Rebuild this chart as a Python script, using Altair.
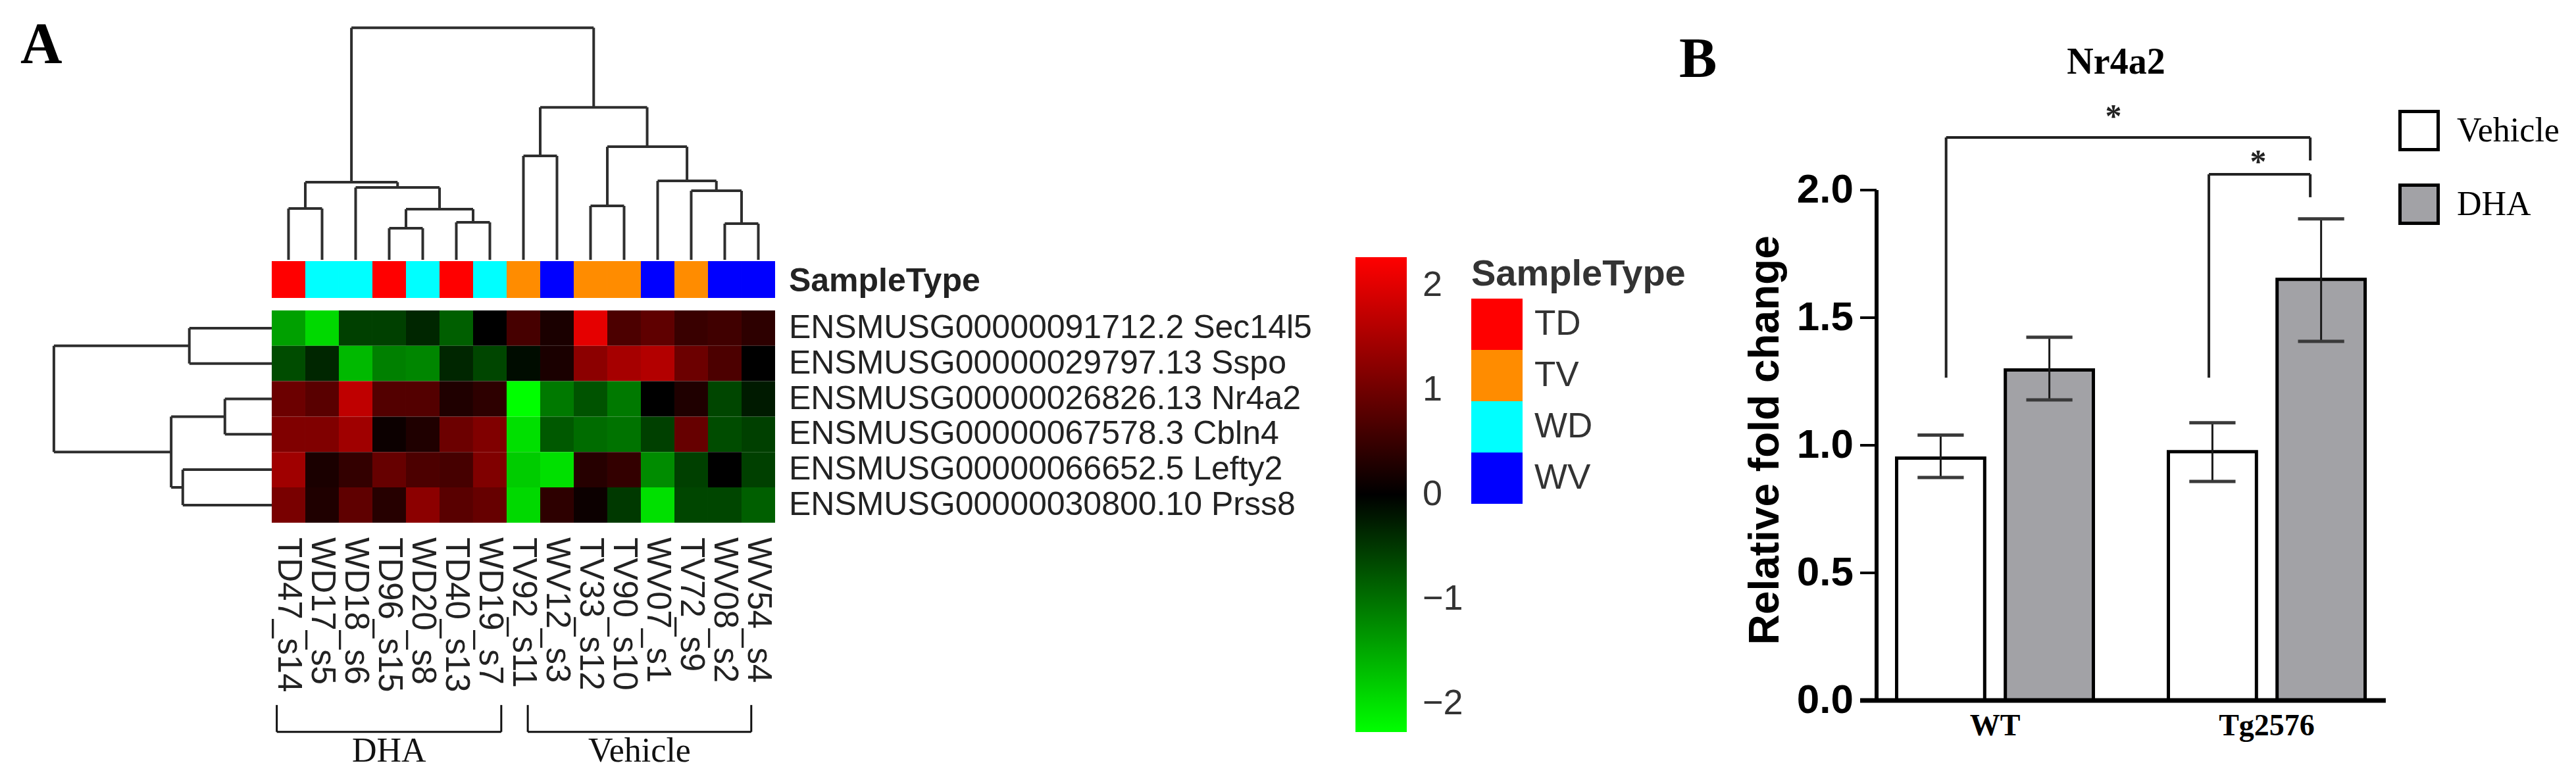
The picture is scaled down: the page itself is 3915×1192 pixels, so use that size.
import altair as alt
import pandas as pd

# ---------------- Panel A data ----------------
samples = ["TD47_s14", "WD17_s5", "WD18_s6", "TD96_s15", "WD20_s8", "TD40_s13", "WD19_s7",
           "TV92_s11", "WV12_s3", "TV33_s12", "TV90_s10", "WV07_s1", "TV72_s9", "WV08_s2", "WV54_s4"]
sample_types = ["TD", "WD", "WD", "TD", "WD", "TD", "WD", "TV", "WV", "TV", "TV", "WV", "TV", "WV", "WV"]
genes = ["ENSMUSG00000091712.2 Sec14l5", "ENSMUSG00000029797.13 Sspo", "ENSMUSG00000026826.13 Nr4a2",
         "ENSMUSG00000067578.3 Cbln4", "ENSMUSG00000066652.5 Lefty2", "ENSMUSG00000030800.10 Prss8"]
z_sec14l5 = [-1.42, -1.93, -0.57, -0.57, -0.34, -0.85, 0.00, 0.62, 0.23, 2.04, 0.68, 0.85, 0.51, 0.57, 0.40]
z_sspo = [-0.68, -0.34, -1.65, -1.14, -1.19, -0.34, -0.62, -0.11, 0.23, 1.25, 1.48, 1.59, 0.96, 0.68, 0.00]
z_nr4a2 = [0.96, 0.79, 1.70, 0.74, 0.74, 0.28, 0.40, -2.27, -1.08, -0.74, -1.08, 0.00, 0.28, -0.62, -0.23]
z_cbln4 = [1.14, 1.14, 1.42, 0.11, 0.28, 0.96, 1.14, -1.99, -0.79, -0.96, -1.02, -0.57, 0.91, -0.68, -0.57]
z_lefty2 = [1.42, 0.23, 0.45, 0.91, 0.68, 0.62, 1.14, -1.82, -1.99, 0.34, 0.45, -1.25, -0.57, 0.00, -0.57]
z_prss8 = [1.08, 0.28, 0.85, 0.34, 1.25, 0.79, 0.91, -1.93, 0.40, 0.11, -0.51, -1.99, -0.62, -0.62, -0.85]
z_rows = [z_sec14l5, z_sspo, z_nr4a2, z_cbln4, z_lefty2, z_prss8]

type_names = ["TD", "TV", "WD", "WV"]
type_colors = ["#ff0000", "#ff8c00", "#00ffff", "#0000ff"]
colorbar_ticks = [-2, -1, 0, 1, 2]

# dendrograms: (left node, right node, height); leaves are 0..n-1, merges numbered n, n+1, ...
col_merges = [(0, 1, 1.56), (3, 4, 0.96), (5, 6, 1.14), (16, 17, 1.54), (2, 18, 2.20),
              (15, 19, 2.36), (7, 8, 3.16), (9, 10, 1.64), (13, 14, 1.10), (12, 23, 2.10),
              (11, 24, 2.40), (22, 25, 3.44), (21, 26, 4.64), (20, 27, 7.06)]
row_merges = [(0, 1, 2.27), (2, 3, 1.29), (4, 5, 2.45), (7, 8, 2.77), (6, 9, 6.00)]

groups_A = ["DHA", "Vehicle"]
groups_A_start = [0.15, 7.63]
groups_A_end = [6.84, 14.29]

# ---------------- Panel B data ----------------
genotypes = ["WT", "Tg2576"]
treatments = ["Vehicle", "DHA"]
bar_means = [[0.95, 1.295], [0.975, 1.65]]
bar_low = [[0.874, 1.178], [0.858, 1.407]]
bar_high = [[1.04, 1.423], [1.088, 1.887]]
y_ticks = [0.0, 0.5, 1.0, 1.5, 2.0]
# significance brackets: left x, right x, top y, left foot, right foot
sig_left = [-0.18, 0.787]
sig_right = [1.16, 1.16]
sig_top = [2.206, 2.062]
sig_left_foot = [1.265, 1.265]
sig_right_foot = [2.116, 1.972]

# ---------------- layout ----------------
W, H = 3899, 1176
SANS = "Liberation Sans, Arial, Helvetica, sans-serif"
SERIF = "Liberation Serif, Times New Roman, serif"
NARROW = "Liberation Sans Narrow, Arial Narrow, Liberation Sans, Arial, sans-serif"
TXT = "#222222"

XA_DOM = [-7.941, 68.51]
YA_DOM = [-8.625, 13.234]
XB_DOM = [-7.322, 2.1186]
YB_DOM = [-0.3067, 2.7242]


def xa(f="x"):
    return alt.X(f"{f}:Q", scale=alt.Scale(domain=XA_DOM, nice=False, zero=False), axis=None)


def ya(f="y"):
    return alt.Y(f"{f}:Q", scale=alt.Scale(domain=YA_DOM, nice=False, zero=False, reverse=True), axis=None)


def xb(f="x"):
    return alt.X(f"{f}:Q", scale=alt.Scale(domain=XB_DOM, nice=False, zero=False), axis=None)


def yb(f="y"):
    return alt.Y(f"{f}:Q", scale=alt.Scale(domain=YB_DOM, nice=False, zero=False), axis=None)


def dendro(merges, n):
    pos = {i: i + 0.5 for i in range(n)}
    hgt = {i: 0.0 for i in range(n)}
    segs = []
    for k, (a, b, h) in enumerate(merges):
        segs.append((pos[a], hgt[a], pos[a], h))
        segs.append((pos[b], hgt[b], pos[b], h))
        segs.append((pos[a], h, pos[b], h))
        pos[n + k] = (pos[a] + pos[b]) / 2
        hgt[n + k] = h
    return segs


# ---------------- Panel A ----------------
heat_df = pd.DataFrame([
    {"x": i, "x2": i + 1, "y": r, "y2": r + 1, "v": z_rows[r][i], "gene": genes[r], "sample": samples[i]}
    for r in range(len(genes)) for i in range(len(samples))
])
heat = alt.Chart(heat_df).mark_rect(strokeWidth=0).encode(
    x=xa(), x2="x2:Q", y=ya(), y2="y2:Q",
    color=alt.Color("v:Q", title=None,
                    scale=alt.Scale(domain=[-2.27, 0, 2.27], range=["#00ff00", "#000000", "#ff0000"],
                                    interpolate="rgb"),
                    legend=alt.Legend(orient="none", legendX=2052, legendY=383, direction="vertical",
                                      gradientLength=722, gradientThickness=78, gradientStrokeWidth=0,
                                      values=colorbar_ticks, format="d", labelFont=SANS, labelFontSize=54,
                                      labelColor="#333333", labelOffset=24, padding=0, tickCount=5)),
)

SB_TOP, SB_BOT = -1.394, -0.353
sbar_df = pd.DataFrame({"x": list(range(15)), "x2": [i + 1 for i in range(15)],
                        "y": [SB_TOP] * 15, "y2": [SB_BOT] * 15, "SampleType": sample_types})
sbar = alt.Chart(sbar_df).mark_rect(strokeWidth=0).encode(
    x=xa(), x2="x2:Q", y=ya(), y2="y2:Q",
    fill=alt.Fill("SampleType:N", title="SampleType",
                  scale=alt.Scale(domain=type_names, range=type_colors),
                  legend=alt.Legend(orient="none", legendX=2228, legendY=382, symbolType="square",
                                    symbolSize=6084, symbolStrokeWidth=0, rowPadding=0, padding=0,
                                    titleFont=SANS, titleFontSize=56, titleFontWeight="bold",
                                    titleColor="#333333", titlePadding=8, titleLimit=2000,
                                    labelFont=SANS, labelLimit=1000,
                                    labelFontSize=53, labelColor="#333333", labelOffset=18)),
)

COL_BASE, COL_K = -1.431, 0.929
col_df = pd.DataFrame([{"x": a, "y": COL_BASE - h1 * COL_K, "x2": b, "y2": COL_BASE - h2 * COL_K}
                       for a, h1, b, h2 in dendro(col_merges, 15)])
ROW_K = 1.082
row_df = pd.DataFrame([{"y": a, "x": -h1 * ROW_K, "y2": b, "x2": -h2 * ROW_K}
                       for a, h1, b, h2 in dendro(row_merges, 6)])
col_tree = alt.Chart(col_df).mark_rule(strokeWidth=4, color="#2e2e2e").encode(
    x=xa(), x2="x2:Q", y=ya(), y2="y2:Q")
row_tree = alt.Chart(row_df).mark_rule(strokeWidth=4, color="#2e2e2e").encode(
    x=xa(), x2="x2:Q", y=ya(), y2="y2:Q")

LABEL_X = 15.41
rowlab_df = pd.DataFrame({"x": [LABEL_X] * 7, "y": [r + 0.5 for r in range(6)] + [-0.818],
                          "t": genes + ["SampleType"], "w": ["normal"] * 6 + ["bold"]})
rowlab = alt.Chart(rowlab_df[rowlab_df.w == "normal"]).mark_text(
    font=SANS, fontSize=50, align="left", baseline="middle", color=TXT).encode(
    x=xa(), y=ya(), text="t:N")
stlab = alt.Chart(rowlab_df[rowlab_df.w == "bold"]).mark_text(
    font=SANS, fontSize=50, fontWeight="bold", align="left", baseline="middle", color=TXT).encode(
    x=xa(), y=ya(), text="t:N")

collab_df = pd.DataFrame({"x": [i + 0.5 for i in range(15)], "y": [6.413] * 15, "t": samples})
collab = alt.Chart(collab_df).mark_text(
    font=SANS, fontSize=51, align="left", baseline="middle", angle=90, color=TXT).encode(
    x=xa(), y=ya(), text="t:N")

BR_TOP, BR_BOT = 11.15, 11.91
br_rows = []
for s, e in zip(groups_A_start, groups_A_end):
    br_rows += [{"x": s, "y": BR_TOP, "x2": s, "y2": BR_BOT},
                {"x": s, "y": BR_BOT, "x2": e, "y2": BR_BOT},
                {"x": e, "y": BR_TOP, "x2": e, "y2": BR_BOT}]
brackets_A = alt.Chart(pd.DataFrame(br_rows)).mark_rule(strokeWidth=3, color="#111111").encode(
    x=xa(), x2="x2:Q", y=ya(), y2="y2:Q")
glab_df = pd.DataFrame({"x": [(s + e) / 2 for s, e in zip(groups_A_start, groups_A_end)],
                        "y": [12.75] * 2, "t": groups_A})
glab = alt.Chart(glab_df).mark_text(font=SERIF, fontSize=52, align="center", baseline="alphabetic",
                                    color="#111111").encode(x=xa(), y=ya(), text="t:N")

letterA = alt.Chart(pd.DataFrame({"x": [-7.49], "y": [-7.007], "t": ["A"]})).mark_text(
    font=SERIF, fontSize=88, fontWeight="bold", align="left", baseline="alphabetic", color="black").encode(
    x=xa(), y=ya(), text="t:N")

panelA = alt.layer(heat, sbar, col_tree, row_tree, rowlab, stlab, collab, brackets_A, glab, letterA)

# ---------------- Panel B ----------------
OFF, HALF, CAP = 0.2, 0.162, 0.085
bar_rows = []
for gi, g in enumerate(genotypes):
    for ti, t in enumerate(treatments):
        c = gi + (ti - 0.5) * 2 * OFF
        bar_rows.append({"genotype": g, "Treatment": t, "c": c, "x": c - HALF, "x2": c + HALF,
                         "cx": c - CAP, "cx2": c + CAP, "y0": 0.0, "mean": bar_means[gi][ti],
                         "lo": bar_low[gi][ti], "hi": bar_high[gi][ti]})
bdf = pd.DataFrame(bar_rows)

bars = alt.Chart(bdf).mark_rect(stroke="black", strokeWidth=5).encode(
    x=xb(), x2="x2:Q", y=yb("y0"), y2="mean:Q",
    fill=alt.Fill("Treatment:N", title=None,
                  scale=alt.Scale(domain=treatments, range=["#ffffff", "#a2a2a6"]),
                  legend=alt.Legend(orient="none", legendX=3637, legendY=159, symbolType="square",
                                    symbolSize=3364, symbolStrokeColor="black", symbolStrokeWidth=5,
                                    rowPadding=33, padding=0, labelFont=SERIF, labelFontSize=52,
                                    labelColor="black", labelOffset=26, labelLimit=1000)),
)
whisk = alt.Chart(bdf).mark_rule(strokeWidth=3, color="#1a1a1a").encode(
    x=xb("c"), y=yb("lo"), y2="hi:Q")
cap_lo = alt.Chart(bdf).mark_rule(strokeWidth=5, color="#3a3a3a").encode(
    x=xb("cx"), x2="cx2:Q", y=yb("lo"))
cap_hi = alt.Chart(bdf).mark_rule(strokeWidth=5, color="#3a3a3a").encode(
    x=xb("cx"), x2="cx2:Q", y=yb("hi"))

AX_X = -0.4358
TICK_LEN = 0.0605
axis_rows = [{"x": AX_X, "y": 0.0, "x2": AX_X, "y2": max(y_ticks), "w": 6},
             {"x": AX_X - TICK_LEN, "y": 0.0, "x2": 1.438, "y2": 0.0, "w": 7}]
axis_rows += [{"x": AX_X - TICK_LEN, "y": t, "x2": AX_X, "y2": t, "w": 4} for t in y_ticks[1:]]
axes_B = alt.Chart(pd.DataFrame(axis_rows)).mark_rule(color="black").encode(
    x=xb(), x2="x2:Q", y=yb(), y2="y2:Q",
    strokeWidth=alt.StrokeWidth("w:Q", scale=None, legend=None))
ticklab = alt.Chart(pd.DataFrame({"x": [-0.5206] * 5, "y": y_ticks,
                                  "t": [f"{t:.1f}" for t in y_ticks]})).mark_text(
    font=NARROW, fontSize=62, fontWeight="bold", align="right", baseline="middle", color="black").encode(
    x=xb(), y=yb(), text="t:N")
ytitle = alt.Chart(pd.DataFrame({"x": [-0.7966], "y": [1.02], "t": ["Relative fold change"]})).mark_text(
    font=SANS, fontSize=64, fontWeight="bold", align="center", baseline="alphabetic", angle=270,
    color="black").encode(x=xb(), y=yb(), text="t:N")
catlab = alt.Chart(pd.DataFrame({"x": [0, 1], "y": [-0.137] * 2, "t": genotypes})).mark_text(
    font=SERIF, fontSize=46, fontWeight="bold", align="center", baseline="alphabetic", color="black").encode(
    x=xb(), y=yb(), text="t:N")
titleB = alt.Chart(pd.DataFrame({"x": [0.4455], "y": [2.456], "t": ["Nr4a2"]})).mark_text(
    font=SERIF, fontSize=56, fontWeight="bold", align="center", baseline="alphabetic", color="black").encode(
    x=xb(), y=yb(), text="t:N")
letterB = alt.Chart(pd.DataFrame({"x": [-1.162], "y": [2.443], "t": ["B"]})).mark_text(
    font=SERIF, fontSize=86, fontWeight="bold", align="left", baseline="alphabetic", color="black").encode(
    x=xb(), y=yb(), text="t:N")

sig_rows = []
for l, r, tp, lf, rf in zip(sig_left, sig_right, sig_top, sig_left_foot, sig_right_foot):
    sig_rows += [{"x": l, "y": lf, "x2": l, "y2": tp},
                 {"x": l, "y": tp, "x2": r, "y2": tp},
                 {"x": r, "y": tp, "x2": r, "y2": rf}]
sig = alt.Chart(pd.DataFrame(sig_rows)).mark_rule(strokeWidth=4, color="#222222").encode(
    x=xb(), x2="x2:Q", y=yb(), y2="y2:Q")
stars = alt.Chart(pd.DataFrame({"x": [0.436, 0.9685], "y": [2.248, 2.07], "t": ["*", "*"]})).mark_text(
    font=SERIF, fontSize=50, fontWeight="bold", align="center", baseline="alphabetic", color="#222222").encode(
    x=xb(), y=yb(), text="t:N")

panelB = alt.layer(bars, whisk, cap_lo, cap_hi, axes_B, ticklab, ytitle, catlab, titleB, letterB, sig, stars)

chart = alt.layer(panelA, panelB).resolve_scale(
    x="independent", y="independent", color="independent", fill="independent", strokeWidth="independent"
).properties(
    width=W, height=H, padding=0, autosize=alt.AutoSizeParams(type="none"), background="white"
).configure_view(stroke=None)

chart.save("out.html", embed_options={"renderer": "svg", "actions": False})
